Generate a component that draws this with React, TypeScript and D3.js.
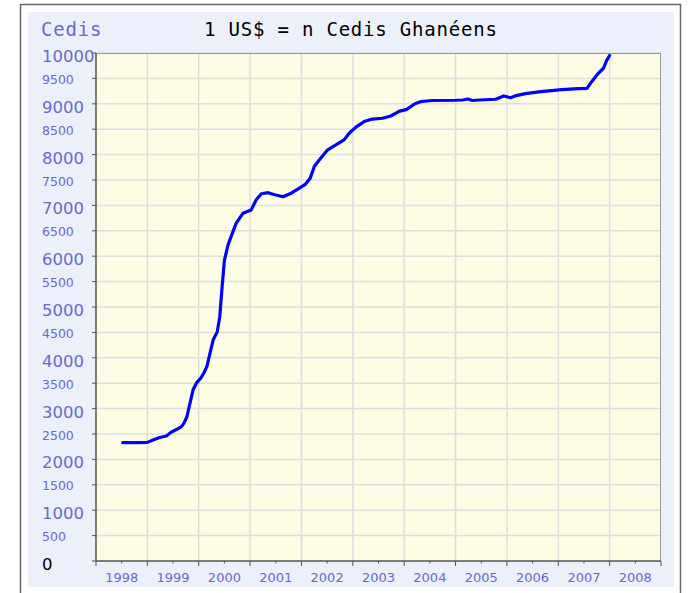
import React from 'react'
import * as d3 from 'd3'

// decimal year / rate (cedis per US$)
const years = [
  1998.52, 1998.75, 1999.0, 1999.11, 1999.24, 1999.37, 1999.47, 1999.57, 1999.66, 1999.71,
  1999.77, 1999.83, 1999.89, 1999.96, 2000.04, 2000.1, 2000.16, 2000.21, 2000.28, 2000.36,
  2000.41, 2000.45, 2000.5, 2000.57, 2000.63, 2000.73, 2000.86, 2001.02, 2001.12, 2001.22,
  2001.35, 2001.48, 2001.64, 2001.8, 2001.96, 2002.08, 2002.17, 2002.25, 2002.35, 2002.51,
  2002.67, 2002.83, 2002.93, 2003.06, 2003.22, 2003.38, 2003.58, 2003.74, 2003.9, 2004.05,
  2004.21, 2004.33, 2004.55, 2005.0, 2005.14, 2005.24, 2005.33, 2005.46, 2005.78, 2005.94,
  2006.07, 2006.16, 2006.36, 2006.62, 2006.87, 2007.07, 2007.39, 2007.56, 2007.65, 2007.78,
  2007.88, 2007.94, 2008.0,
]
const rates = [
  2330, 2330, 2335, 2380, 2430, 2460, 2540, 2590, 2640, 2710,
  2840, 3105, 3370, 3510, 3600, 3700, 3830, 4050, 4350, 4510,
  4810, 5330, 5920, 6220, 6385, 6650, 6845, 6910, 7110, 7230,
  7250, 7210, 7170, 7240, 7340, 7420, 7535, 7765, 7900, 8095,
  8190, 8290, 8420, 8540, 8650, 8700, 8715, 8760, 8850, 8890,
  9000, 9045, 9065, 9070, 9075, 9095, 9065, 9075, 9090, 9155,
  9120, 9155, 9200, 9235, 9260, 9280, 9300, 9305, 9435, 9600,
  9700, 9850, 9950,
]
const yearLabels = ['1998', '1999', '2000', '2001', '2002', '2003', '2004', '2005', '2006', '2007', '2008']

const title = '1 US$ = n Cedis Ghanéens'
const unit = 'Cedis'

const W = 690
const H = 593
const plot = { left: 96, top: 53, right: 661, bottom: 561 }
const blue = '#6a6acb'

export default function App() {
  const x = d3.scaleLinear().domain([1998, 2009]).range([plot.left, plot.right])
  const y = d3.scaleLinear().domain([0, 10000]).range([plot.bottom, plot.top])

  const yTicks = d3.range(0, 10001, 500)
  const xTicks = d3.range(1998, 2010, 1)
  const xMinor = d3.range(1998.5, 2009, 1)

  const line = d3
    .line<number>()
    .x((d, i) => x(years[i]))
    .y((d) => y(d))

  return (
    <svg width={W} height={H} style={{ position: 'absolute', left: 0, top: 0 }}>
      {/* outer frame + panel */}
      <rect x={20.5} y={4.5} width={660} height={600} fill="#fff" stroke="#666" strokeWidth={1.5} />
      <rect x={28} y={12} width={646} height={575} fill="#ebf0fa" />

      {/* plot area */}
      <rect x={plot.left} y={plot.top} width={plot.right - plot.left} height={plot.bottom - plot.top} fill="#fdfde6" />

      {/* grid */}
      {yTicks.slice(1).map((t) => (
        <line key={'gy' + t} x1={plot.left} x2={plot.right} y1={y(t)} y2={y(t)} stroke="#dedede" strokeWidth={1.5} />
      ))}
      {xTicks.slice(1, -1).map((t) => (
        <line key={'gx' + t} x1={x(t)} x2={x(t)} y1={plot.top} y2={plot.bottom} stroke="#dedede" strokeWidth={1.5} />
      ))}

      {/* top/right border */}
      <path
        d={`M${plot.left},${plot.top + 0.5}H${plot.right - 0.5}V${plot.bottom}`}
        fill="none"
        stroke="#999"
        strokeWidth={1}
      />

      {/* axes */}
      <line x1={plot.left} x2={plot.left} y1={plot.top} y2={plot.bottom} stroke="#555" strokeWidth={1.5} />
      <line x1={plot.left} x2={plot.right} y1={plot.bottom} y2={plot.bottom} stroke="#555" strokeWidth={1.5} />
      {yTicks.map((t) => (
        <line key={'ty' + t} x1={plot.left - 4} x2={plot.left} y1={y(t)} y2={y(t)} stroke="#555" strokeWidth={1} />
      ))}
      {xTicks.map((t) => (
        <line key={'tx' + t} x1={x(t)} x2={x(t)} y1={plot.bottom} y2={plot.bottom + 5} stroke="#555" strokeWidth={1} />
      ))}
      {xMinor.map((t) => (
        <line key={'tm' + t} x1={x(t)} x2={x(t)} y1={plot.bottom} y2={plot.bottom + 2.5} stroke="#555" strokeWidth={1} />
      ))}

      {/* y labels */}
      {yTicks.map((t) => {
        const major = t % 1000 === 0
        return (
          <text
            key={'ly' + t}
            x={42}
            y={y(t) + (major ? 9 : 5.5)}
            fontFamily="DejaVu Sans"
            fontSize={major ? 16.5 : 12.5}
            fill={t === 0 ? '#000' : blue}
          >
            {t}
          </text>
        )
      })}

      {/* x labels */}
      {yearLabels.map((lab, i) => (
        <text
          key={lab}
          x={x(+lab + 0.5)}
          y={581.5}
          textAnchor="middle"
          fontFamily="DejaVu Sans"
          fontSize={13}
          fill={blue}
        >
          {lab}
        </text>
      ))}

      {/* data line */}
      <path d={line(rates) || ''} fill="none" stroke="#0000ff" strokeWidth={3.2} strokeLinejoin="round" strokeLinecap="round" />

      {/* titles */}
      <text x={41} y={36} fontFamily="DejaVu Sans Mono" fontSize={19} letterSpacing={0.8} fill={blue}>
        {unit}
      </text>
      <text x={204} y={36} fontFamily="DejaVu Sans Mono" fontSize={19} letterSpacing={0.8} fill="#000">
        {title}
      </text>
    </svg>
  )
}
